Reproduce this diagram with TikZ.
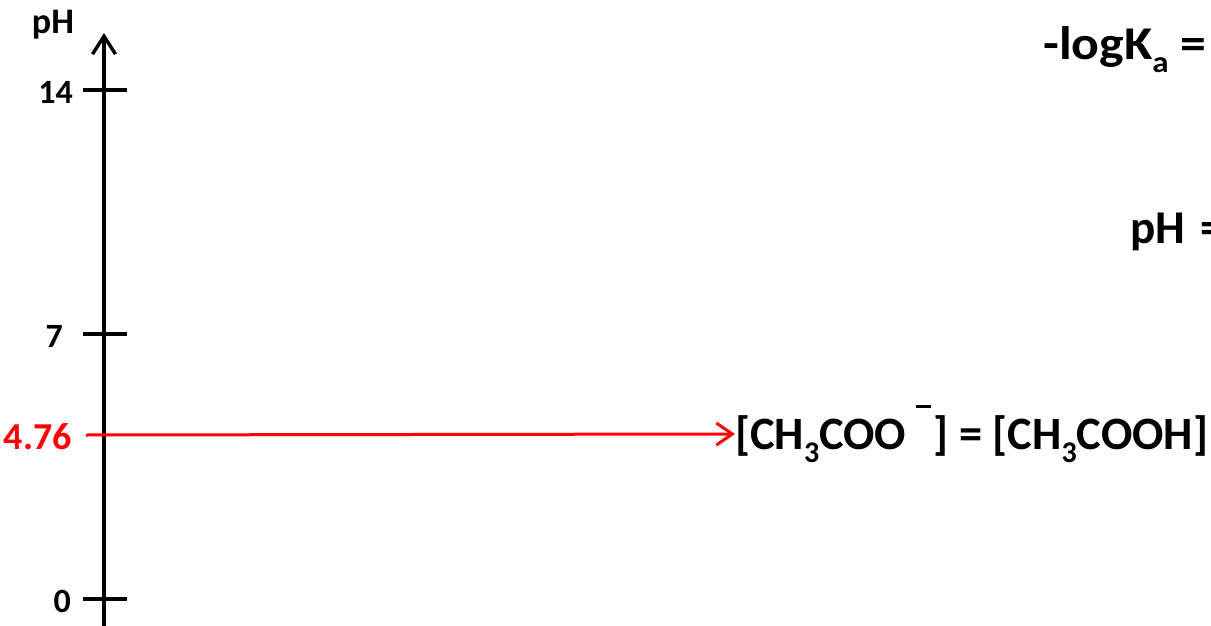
\documentclass[tikz,border=0pt]{standalone}
\usepackage{fontspec}
\setmainfont{Carlito}
\usetikzlibrary{arrows.meta}
\newcommand{\subtxt}[1]{\raisebox{-0.28em}{\fontsize{30}{30}\selectfont #1}}
\newcommand{\minussup}{\hspace{0.2em}\rule[0.9em]{0.33em}{0.045em}\hspace{0.06em}}
\begin{document}
\begin{tikzpicture}[x=1pt,y=-1pt,
  axisline/.style={line width=3.4pt},
  ticklabel/.style={font=\bfseries\fontsize{34}{34}\selectfont, anchor=east, inner sep=0pt},
  bigtext/.style={font=\bfseries\fontsize{47}{47}\selectfont, inner sep=0pt},
  redline/.style={red, line width=3pt}]
\useasboundingbox (0,0) rectangle (1211,626);
\clip (0,0) rectangle (1211,626);
% pH axis
\coordinate (axbot) at (104,630);
\coordinate (axtop) at (104,33);
\draw[axisline, -{Straight Barb[length=18pt,width=23pt,line width=3.4pt]}] (axbot) -- (axtop);
% ticks
\foreach \nm/\yy in {t14/90, t7/334, t0/599} {
  \coordinate (\nm L) at (83,\yy);
  \coordinate (\nm R) at (127,\yy);
  \draw[axisline] (\nm L) -- (\nm R);
}
\node[font=\bfseries\fontsize{36}{36}\selectfont, inner sep=0pt] (phlab) at (53,25) {pH};
\node[ticklabel] (l14) at (73,92) {14};
\node[ticklabel] (l7) at (63,336) {7};
\node[ticklabel] (l0) at (71,601) {0};
\node[ticklabel, red, font=\bfseries\fontsize{38}{38}\selectfont] (l476) at (72,437) {4.76};
% red marker at 4.76
\coordinate (t476L) at (86,435);
\node[bigtext, font=\bfseries\fontsize{46.4}{46.4}\selectfont, anchor=west] (eq) at (735,434) {[CH\subtxt{3}COO\minussup] = [CH\subtxt{3}COOH]};
\draw[redline, -{Straight Barb[length=16pt,width=22pt,line width=3pt]}] (t476L) -- (eq.west);
% expressions on the right
\node[bigtext, anchor=west, xscale=1.1, transform shape] (logka) at (1043,50) {-logK\subtxt{a} =};
\node[bigtext, anchor=west] (phright) at (1130,232) {pH\hspace{0.1em} =};
\end{tikzpicture}
\end{document}
